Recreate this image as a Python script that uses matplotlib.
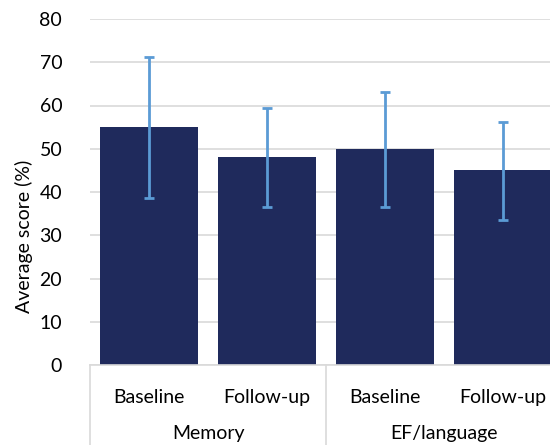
import matplotlib.pyplot as plt
import matplotlib.transforms as mtransforms

plt.rcParams['font.family'] = ['Lato', 'DejaVu Sans']

categories = ['Baseline', 'Follow-up', 'Baseline', 'Follow-up']
groups = ['Memory', 'EF/language']
means = [55, 48, 50, 45]
err_upper = [71.1, 59.4, 63.1, 56.3]
err_lower = [38.6, 36.5, 36.6, 33.5]

bar_color = '#1f2a5c'
err_color = '#5b9bd5'
grid_color = '#d9d9d9'
fs = 14

fig = plt.figure(figsize=(5.5, 4.45), dpi=100)
ax = fig.add_axes([90 / 550, 80 / 445, 472 / 550, 346 / 445])

x = list(range(len(means)))
yerr = [[m - lo for m, lo in zip(means, err_lower)],
        [hi - m for m, hi in zip(means, err_upper)]]
ax.bar(x, means, width=0.83, color=bar_color, zorder=2)
ax.errorbar(x, means, yerr=yerr, fmt='none', ecolor=err_color,
            elinewidth=2, capsize=3.5, capthick=2, zorder=3)

ax.set_xlim(-0.5, 3.5)
ax.set_ylim(0, 80)
ax.set_yticks(range(0, 81, 10))
ax.yaxis.grid(True, color=grid_color, linewidth=1.2, zorder=0)
ax.set_axisbelow(True)
for side in ['left', 'right', 'top']:
    ax.spines[side].set_visible(False)
ax.spines['bottom'].set_color(grid_color)
ax.spines['bottom'].set_linewidth(1.2)
ax.tick_params(axis='y', length=0, pad=20, labelsize=fs, colors='#000000')
ax.tick_params(axis='x', length=0, pad=17, labelsize=fs)
ax.set_xticks(x)
ax.set_xticklabels(categories)

fig.text(24 / 550, 1 - 236 / 445, 'Average score (%)', rotation=90,
         ha='center', va='center', fontsize=fs)

trans = mtransforms.blended_transform_factory(ax.transData, ax.transAxes)
bottom = -80 / 346
for sep in [-0.5, 1.5, 3.5]:
    ax.plot([sep, sep], [0, bottom], transform=trans, color=grid_color,
            linewidth=1.2, clip_on=False)
for i, g in enumerate(groups):
    ax.text(2 * i + 0.5, -68 / 346, g, transform=trans, ha='center',
            va='center', fontsize=fs)

fig.savefig('out.png', dpi=100)
